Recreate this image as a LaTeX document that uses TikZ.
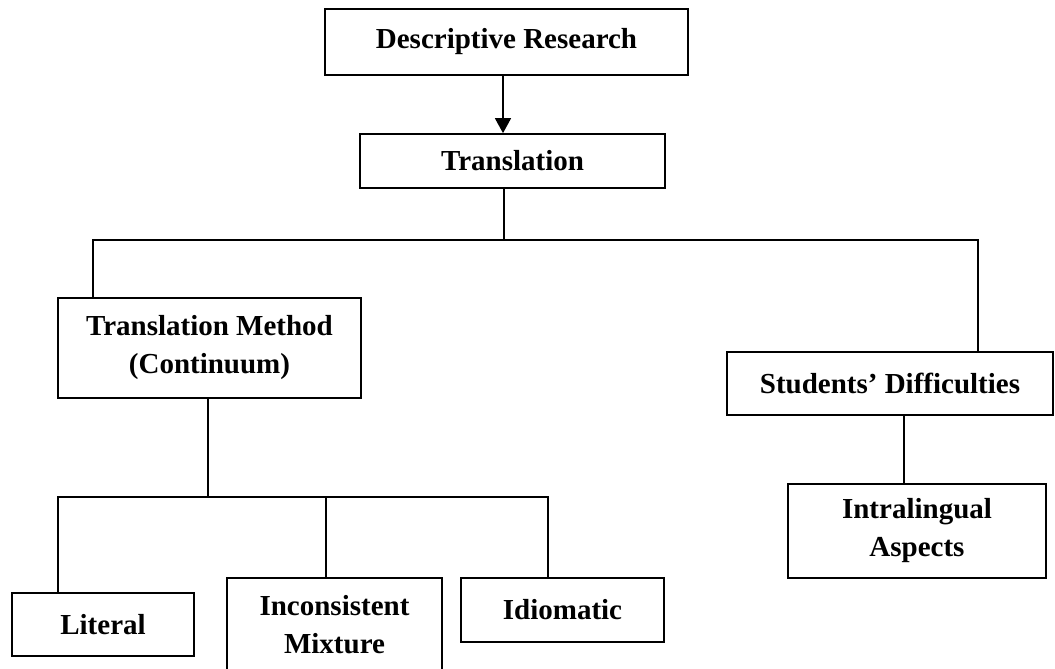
\documentclass[tikz,border=0pt]{standalone}
\usepackage{fontspec}
\setmainfont{Liberation Serif}
\usetikzlibrary{arrows.meta}
\tikzset{
  box/.style={draw, line width=1.7pt, inner sep=0pt, align=center,
    font={\fontsize{29}{38}\selectfont\bfseries}},
  link/.style={line width=1.4pt}
}
\begin{document}
\begin{tikzpicture}[x=1pt,y=-1pt]
    \useasboundingbox (0,0) rectangle (1055,669);

    \node[box, minimum width=363pt, minimum height=66pt] (desc) at (506.5,42) {Descriptive Research};
    \node[box, minimum width=305pt, minimum height=54pt] (trans) at (512.5,161) {Translation};
    \node[box, minimum width=303pt, minimum height=100pt] (tm) at (209.5,348) {Translation Method\\(Continuum)};
    \node[box, minimum width=326pt, minimum height=63pt] (sd) at (890,383.5) {Students’ Difficulties};
    \node[box, minimum width=258pt, minimum height=94pt] (intra) at (917,531) {Intralingual\\Aspects};
    \node[box, minimum width=182pt, minimum height=63pt] (lit) at (103,624.5) {Literal};
    \node[box, minimum width=215pt, minimum height=94pt] (incon) at (334.5,625) {Inconsistent\\Mixture};
    \node[box, minimum width=203pt, minimum height=64pt] (idio) at (562.5,610) {Idiomatic};

    \coordinate (arr) at (503,0);
    \coordinate (top) at (504,240);
    \coordinate (busL) at (93,240);
    \coordinate (busR) at (978,240);
    \coordinate (split) at (208,497);
    \coordinate (lowL) at (58,497);
    \coordinate (lowM) at (326,497);
    \coordinate (lowR) at (548,497);
    \coordinate (sdj) at (904,0);

    \draw[link, -{Triangle[length=15pt,width=16pt]}] (desc.south -| arr) -- (trans.north -| arr);
    \draw[link] (trans.south -| top) -- (top);
    \draw[link] (tm.north -| busL) |- (busR) -- (sd.north -| busR);
    \draw[link] (tm.south -| split) -- (split);
    \draw[link] (lit.north -| lowL) |- (lowR) -- (idio.north -| lowR);
    \draw[link] (lowM) -- (incon.north -| lowM);
    \draw[link] (sd.south -| sdj) -- (intra.north -| sdj);

\end{tikzpicture}
\end{document}
